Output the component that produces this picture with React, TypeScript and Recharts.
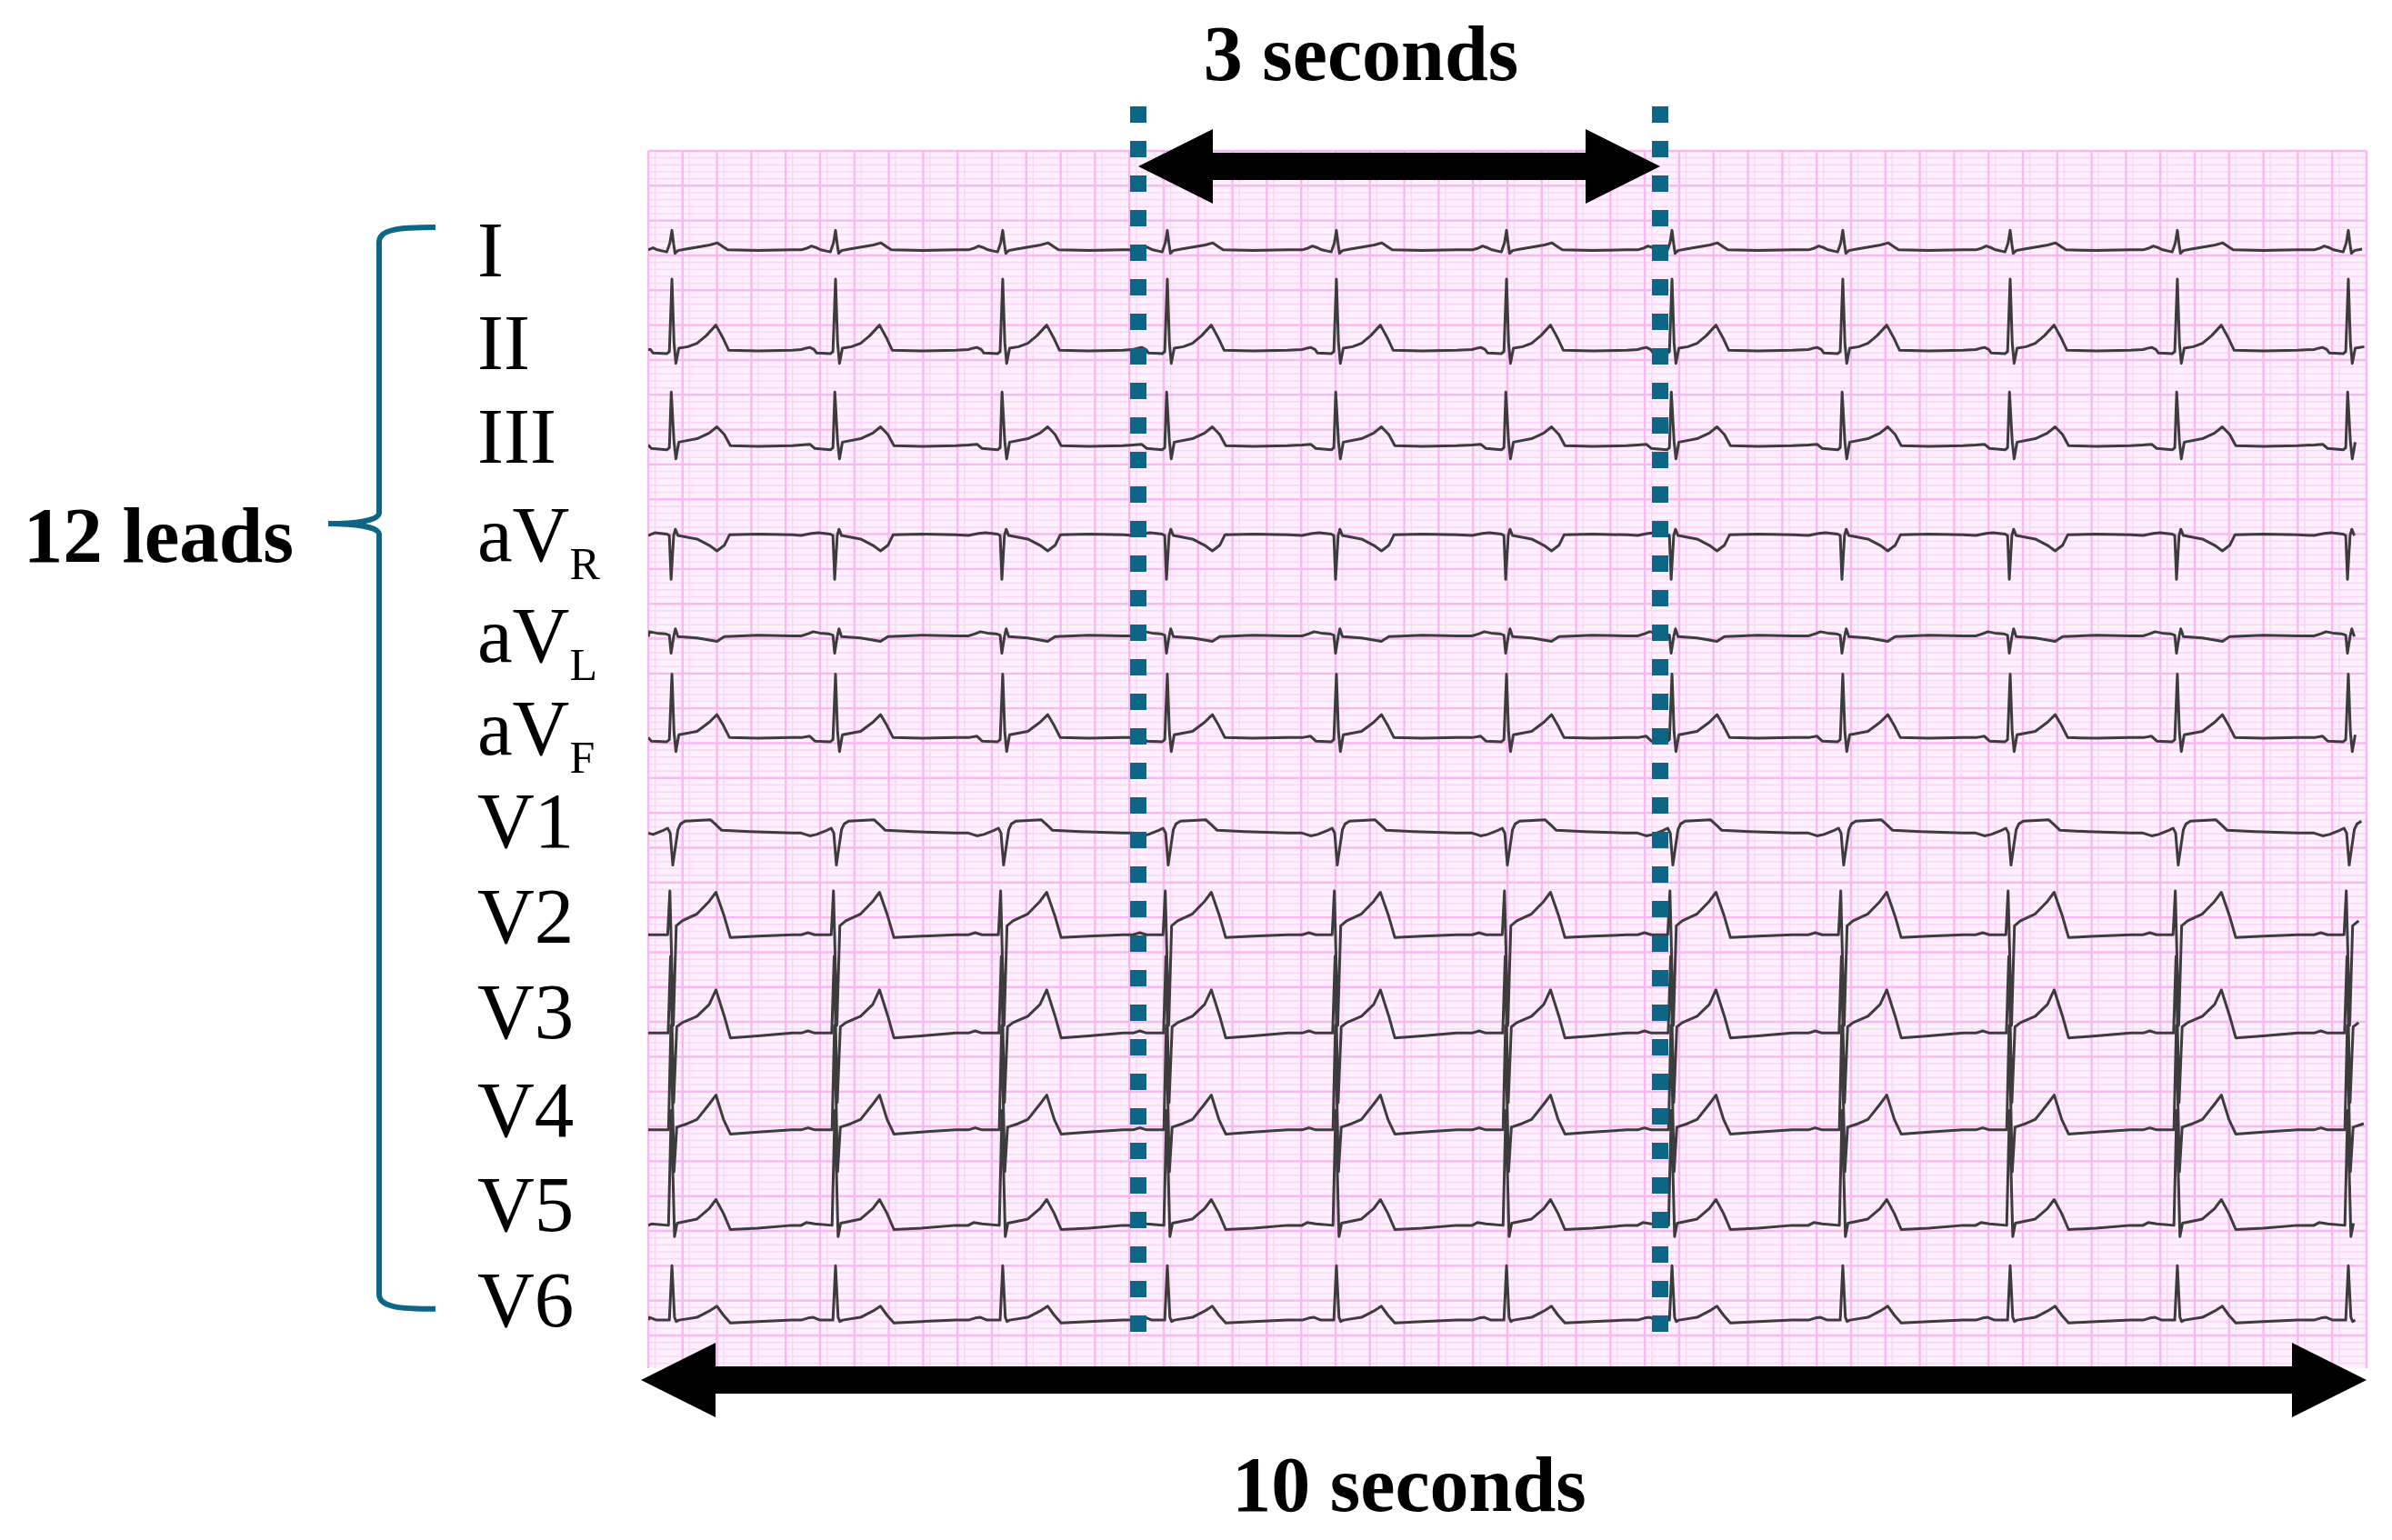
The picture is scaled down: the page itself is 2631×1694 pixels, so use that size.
import React from 'react';
import { LineChart, Line, XAxis, YAxis, CartesianGrid, ReferenceLine } from 'recharts';

const W = 2631;
const H = 1694;
const FONT = '"Liberation Serif", "Times New Roman", serif';

// ---- labels ----
const LEAD_NAMES = ['I', 'II', 'III', 'aV', 'aV', 'aV', 'V1', 'V2', 'V3', 'V4', 'V5', 'V6'];
const LEAD_SUBS = ['', '', '', 'R', 'L', 'F', '', '', '', '', '', ''];
const TITLE_TOP = '3 seconds';
const TITLE_BOTTOM = '10 seconds';
const TITLE_LEFT = '12 leads';

// ---- time axis (seconds) ----
const X_DOMAIN = [0, 10];
const BEAT_TIMES = [0.138, 1.09, 2.063, 3.021, 4.005, 4.995, 5.958, 6.952, 7.926, 8.899, 9.894];
const MARKER_TIMES = [2.852, 5.889];
const TEN_SECOND_SPAN = [-0.042, 10.0];

// ---- amplitude axis (mV, paper top = 0) ----
const Y_DOMAIN = [-17.47, 0];
const LEAD_BASELINES = [-1.42, -2.85, -4.22, -5.52, -6.97, -8.42, -9.79, -11.25, -12.66, -14.05, -15.42, -16.78];
const LABEL_POSITIONS = [-1.42, -2.75, -4.1, -5.5, -6.95, -8.29, -9.61, -10.98, -12.36, -13.76, -15.12, -16.49];
const MARKER_Y = [0.64, -17.19];
const ARROW_TOP_Y = -0.222;
const ARROW_BOTTOM_Y = -17.64;
const BRACE_X = -1.566;
const BRACE_Y = [-1.097, -16.62];

// ---- beat templates: [seconds from R peak, mV] ----
const BEAT_I = [[-0.2, 0], [-0.17, 0.02], [-0.14, 0.055], [-0.11, 0.03], [-0.085, 0], [-0.03, -0.03], [-0.012, 0.1], [0, 0.28], [0.01, 0.08], [0.018, -0.05], [0.035, -0.01], [0.08, 0.01], [0.15, 0.04], [0.22, 0.07], [0.265, 0.1], [0.3, 0.04], [0.325, 0], [0.5, -0.01], [0.7, 0]];
const BEAT_II = [[-0.2, 0], [-0.17, 0.02], [-0.15, 0.03], [-0.125, 0], [-0.11, -0.05], [-0.03, -0.06], [-0.015, -0.03], [0, 1.01], [0.012, 0.1], [0.023, -0.2], [0.04, 0.02], [0.093, 0.04], [0.146, 0.09], [0.2, 0.2], [0.256, 0.35], [0.296, 0.17], [0.33, -0.01], [0.5, -0.02], [0.7, -0.01]];
const BEAT_III = [[-0.2, 0], [-0.15, 0.01], [-0.12, -0.05], [-0.03, -0.07], [-0.015, -0.04], [-0.004, 0.76], [0.012, 0.05], [0.023, -0.2], [0.04, 0.04], [0.146, 0.09], [0.217, 0.17], [0.262, 0.26], [0.305, 0.15], [0.34, -0.01], [0.5, -0.02], [0.7, -0.01]];
const BEAT_AVR = [[-0.2, 0], [-0.14, 0.03], [-0.1, 0.04], [-0.03, 0.02], [-0.015, 0], [-0.005, -0.63], [0.01, 0], [0.02, 0.09], [0.035, 0], [0.146, -0.05], [0.217, -0.14], [0.262, -0.22], [0.305, -0.14], [0.335, 0.01], [0.5, 0.02], [0.7, 0.01]];
const BEAT_AVL = [[-0.2, 0.01], [-0.16, 0.04], [-0.13, 0.07], [-0.09, 0.05], [-0.04, 0.04], [-0.015, 0.02], [-0.005, -0.24], [0.01, 0], [0.02, 0.11], [0.035, 0], [0.146, -0.02], [0.262, -0.07], [0.305, 0], [0.5, 0.02], [0.7, 0.01]];
const BEAT_AVF = [[-0.2, 0], [-0.15, 0.02], [-0.12, -0.05], [-0.03, -0.06], [-0.015, -0.03], [0, 0.91], [0.012, 0.08], [0.023, -0.2], [0.04, 0.04], [0.146, 0.09], [0.217, 0.22], [0.262, 0.33], [0.3, 0.17], [0.335, 0], [0.5, -0.01], [0.7, 0]];
const BEAT_V1 = [[-0.2, 0], [-0.15, -0.04], [-0.11, -0.02], [-0.05, 0.04], [-0.025, 0.07], [-0.01, 0], [0.005, -0.46], [0.02, -0.2], [0.035, 0.05], [0.05, 0.13], [0.076, 0.17], [0.225, 0.19], [0.26, 0.11], [0.29, 0.04], [0.45, 0.02], [0.7, 0]];
const BEAT_V2 = [[-0.2, 0], [-0.16, 0.03], [-0.12, 0], [-0.025, 0], [-0.012, 0.63], [0.008, -1.3], [0.025, 0.13], [0.06, 0.2], [0.146, 0.3], [0.217, 0.48], [0.256, 0.61], [0.305, 0.26], [0.34, -0.04], [0.5, -0.02], [0.7, 0]];
const BEAT_V3 = [[-0.2, 0], [-0.16, 0.03], [-0.12, 0], [-0.022, 0], [-0.008, 1.1], [0.01, -1.0], [0.028, 0.09], [0.06, 0.15], [0.146, 0.24], [0.217, 0.41], [0.256, 0.62], [0.305, 0.24], [0.34, -0.07], [0.5, -0.04], [0.7, 0]];
const BEAT_V4 = [[-0.2, 0], [-0.16, 0.03], [-0.12, 0], [-0.02, 0], [-0.006, 1.5], [0.012, -0.6], [0.028, 0.04], [0.09, 0.09], [0.146, 0.15], [0.217, 0.37], [0.256, 0.5], [0.3, 0.15], [0.34, -0.06], [0.5, -0.03], [0.7, 0]];
const BEAT_V5 = [[-0.2, 0], [-0.17, 0.04], [-0.12, 0.02], [-0.02, 0], [-0.004, 1.65], [0.015, -0.16], [0.03, 0.03], [0.146, 0.09], [0.217, 0.24], [0.256, 0.37], [0.3, 0.17], [0.34, -0.06], [0.5, -0.04], [0.7, 0]];
const BEAT_V6 = [[-0.2, 0], [-0.16, 0.03], [-0.13, 0.04], [-0.09, 0], [-0.015, 0], [0, 0.78], [0.015, 0.04], [0.025, -0.02], [0.04, 0], [0.146, 0.04], [0.217, 0.13], [0.262, 0.2], [0.3, 0.07], [0.34, -0.04], [0.5, -0.02], [0.7, 0]];

const TEMPLATES = [BEAT_I, BEAT_II, BEAT_III, BEAT_AVR, BEAT_AVL, BEAT_AVF, BEAT_V1, BEAT_V2, BEAT_V3, BEAT_V4, BEAT_V5, BEAT_V6];

// ---- styles ----
const PAPER_BG = '#fff0fd';
const MINOR_COLOR = '#fcd6f8';
const MAJOR_COLOR = '#f9b8f2';
const TRACE_COLOR = '#3c3c3c';
const TEAL = '#0d6686';

// grid values (paper: 0.04 s / 0.1 mV small boxes, 0.2 s / 0.5 mV large boxes)
const steps = (from: number, to: number, step: number) => {
  const out: number[] = [];
  const n = Math.round((to - from) / step);
  for (let i = 0; i <= n; i++) out.push(Math.round((from + i * step) * 10000) / 10000);
  return out;
};
const MINOR_X = steps(0, 10, 0.04);
const MAJOR_X = steps(0, 10, 0.2);
const MINOR_Y = steps(-17.4, 0, 0.1);
const MAJOR_Y = steps(-17.0, 0, 0.5);

function buildLead(idx: number) {
  const base = LEAD_BASELINES[idx];
  const tpl = TEMPLATES[idx];
  const pts: { t: number; v: number }[] = [{ t: 0, v: base }];
  BEAT_TIMES.forEach((bt) => {
    tpl.forEach(([dt, a]) => {
      const t = bt + dt;
      if (t > 0 && t <= X_DOMAIN[1]) pts.push({ t: Math.round(t * 10000) / 10000, v: base + a });
    });
  });
  return pts;
}
const LEAD_DATA = TEMPLATES.map((_, i) => buildLead(i));

// ---- custom shapes ----
const DoubleArrow = (props: any) => {
  const { x1, y1, x2, text, textDx, textDy } = props;
  const head = 82;
  const half = 41;
  const shaft = 15;
  const y = y1;
  const pts = [
    [x1, y], [x1 + head, y - half], [x1 + head, y - shaft], [x2 - head, y - shaft], [x2 - head, y - half],
    [x2, y], [x2 - head, y + half], [x2 - head, y + shaft], [x1 + head, y + shaft], [x1 + head, y + half],
  ].map((p) => p.join(',')).join(' ');
  return (
    <g>
      <polygon points={pts} fill="#000" />
      <text x={(x1 + x2) / 2 + textDx} y={y + textDy} textAnchor="middle" fontFamily={FONT} fontWeight="bold" fontSize={86} fill="#000">
        {text}
      </text>
    </g>
  );
};

const Brace = (props: any) => {
  const { x1, y1, y2 } = props;
  const x = x1;
  const hook = 62;
  const tipDx = 56;
  const tipY = y1 + (y2 - y1) * 0.274;
  const d = [
    `M ${x + hook} ${y1}`,
    `C ${x + 22} ${y1} ${x} ${y1 + 2} ${x} ${y1 + 16}`,
    `L ${x} ${tipY - 12}`,
    `C ${x} ${tipY - 3} ${x - 28} ${tipY} ${x - tipDx} ${tipY}`,
    `C ${x - 28} ${tipY} ${x} ${tipY + 3} ${x} ${tipY + 12}`,
    `L ${x} ${y2 - 16}`,
    `C ${x} ${y2 - 2} ${x + 22} ${y2} ${x + hook} ${y2}`,
  ].join(' ');
  return (
    <g>
      <path d={d} fill="none" stroke={TEAL} strokeWidth={6} />
      <text x={x - tipDx - 38} y={tipY + 42} textAnchor="end" fontFamily={FONT} fontWeight="bold" fontSize={87} fill="#000">
        {TITLE_LEFT}
      </text>
    </g>
  );
};

const LABEL_X = 525;
const LeadTick = (props: any) => {
  const { y, payload, index } = props;
  let i = LABEL_POSITIONS.indexOf(payload?.value);
  if (i < 0) i = index ?? 0;
  const sub = LEAD_SUBS[i];
  return (
    <text x={LABEL_X} y={y} dy={29} textAnchor="start" fontFamily={FONT} fontSize={87} fill="#000">
      {LEAD_NAMES[i]}
      {sub ? (
        <tspan dy={20} fontSize={50}>
          {sub}
        </tspan>
      ) : null}
    </text>
  );
};

export default function App() {
  return (
    <div style={{ position: 'absolute', left: 0, top: 0, width: W, height: H, background: '#fff', fontFamily: FONT }}>
      <LineChart width={W} height={H} margin={{ top: 166, right: 28, bottom: 189, left: 513 }}>
        <CartesianGrid verticalValues={MINOR_X} horizontalValues={MINOR_Y} stroke={MINOR_COLOR} strokeWidth={1.6} fill={PAPER_BG} fillOpacity={1} />
        <CartesianGrid verticalValues={MAJOR_X} horizontalValues={MAJOR_Y} stroke={MAJOR_COLOR} strokeWidth={2.4} />
        <XAxis type="number" dataKey="t" domain={X_DOMAIN} allowDataOverflow hide />
        <YAxis
          type="number"
          domain={Y_DOMAIN}
          allowDataOverflow
          width={200}
          ticks={LABEL_POSITIONS}
          interval={0}
          axisLine={false}
          tickLine={false}
          tick={<LeadTick />}
        />
        {LEAD_DATA.map((d, i) => (
          <Line
            key={i}
            data={d}
            dataKey="v"
            type="linear"
            stroke={TRACE_COLOR}
            strokeWidth={3}
            strokeLinejoin="round"
            dot={false}
            activeDot={false}
            isAnimationActive={false}
          />
        ))}
        {MARKER_TIMES.map((t, i) => (
          <ReferenceLine
            key={'m' + i}
            segment={[{ x: t, y: MARKER_Y[0] }, { x: t, y: MARKER_Y[1] }]}
            stroke={TEAL}
            strokeWidth={18}
            strokeDasharray="18 20"
            ifOverflow="visible"
          />
        ))}
        <ReferenceLine
          segment={[{ x: MARKER_TIMES[0], y: ARROW_TOP_Y }, { x: MARKER_TIMES[1], y: ARROW_TOP_Y }]}
          ifOverflow="visible"
          shape={(p: any) => <DoubleArrow {...p} text={TITLE_TOP} textDx={-42} textDy={-95} />}
        />
        <ReferenceLine
          segment={[{ x: TEN_SECOND_SPAN[0], y: ARROW_BOTTOM_Y }, { x: TEN_SECOND_SPAN[1], y: ARROW_BOTTOM_Y }]}
          ifOverflow="visible"
          shape={(p: any) => <DoubleArrow {...p} text={TITLE_BOTTOM} textDx={-104} textDy={144} />}
        />
        <ReferenceLine
          segment={[{ x: BRACE_X, y: BRACE_Y[0] }, { x: BRACE_X, y: BRACE_Y[1] }]}
          ifOverflow="visible"
          shape={(p: any) => <Brace {...p} />}
        />
      </LineChart>
    </div>
  );
}
